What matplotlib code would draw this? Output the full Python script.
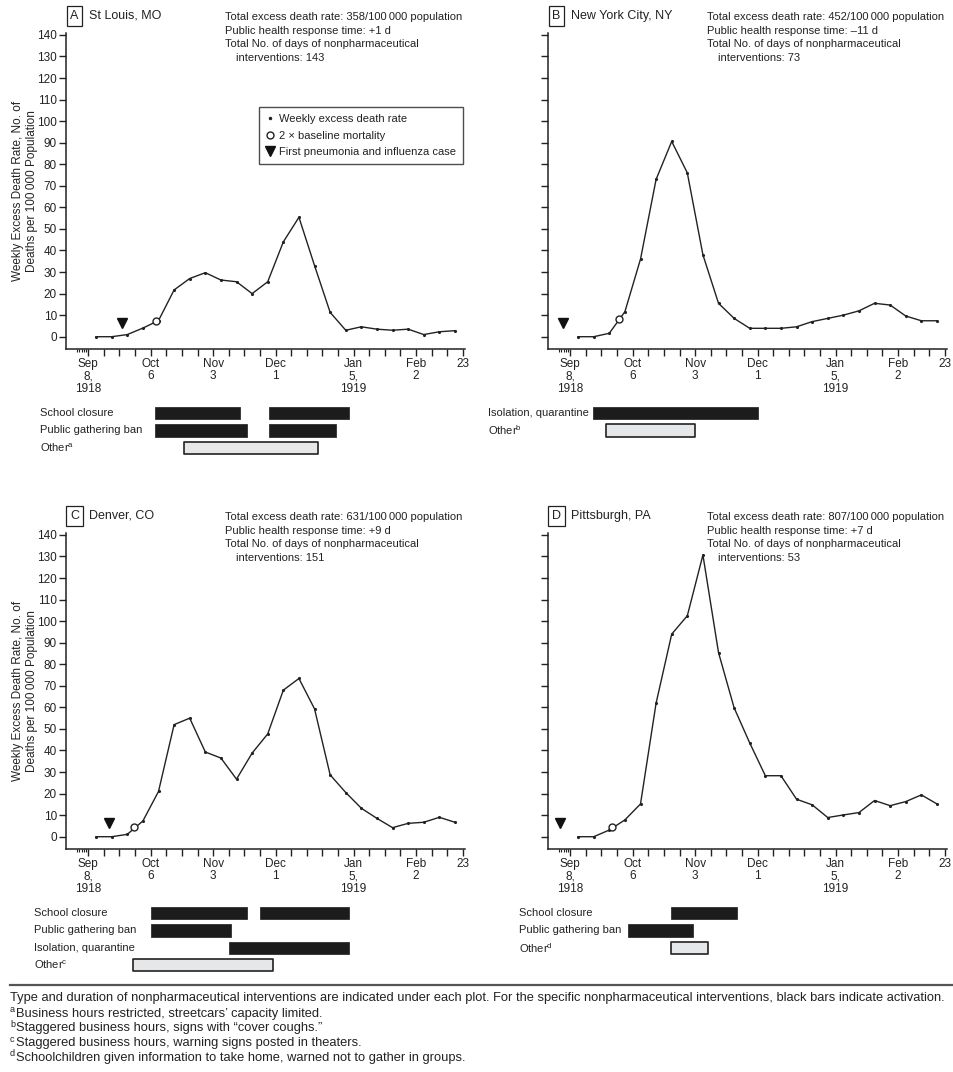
import matplotlib
matplotlib.use('Agg')
import matplotlib.pyplot as plt
from matplotlib.lines import Line2D
import numpy as np

plt.rcParams['font.family'] = ['Liberation Sans', 'DejaVu Sans']
plt.rcParams['mathtext.fontset'] = 'custom'
plt.rcParams['mathtext.rm'] = 'Liberation Sans'

W, H = 954, 1072
INK = '#222222'

# weekly values, plotted at the middle of each week (days after Sep 8, 1918)
week_mid = np.arange(24) * 7 + 3.5

letters = ['A', 'B', 'C', 'D']
cities = ['St Louis, MO', 'New York City, NY', 'Denver, CO', 'Pittsburgh, PA']
total_rate = [358, 452, 631, 807]
response_time = ['+1', '\u201311', '+9', '+7']
npi_days = [143, 73, 151, 53]

rate_stl = [0, 0, 1, 4, 7.5, 21.7, 27, 29.7, 26.3, 25.5, 20, 25.5,
            44, 55.4, 33, 11.3, 3, 4.6, 3.5, 3, 3.5, 1, 2.3, 2.8]
rate_nyc = [0, 0, 1.6, 11.6, 36, 73, 90.6, 76, 38, 15.5, 8.5, 3.9,
            3.9, 3.9, 4.6, 7, 8.5, 10, 12, 15.5, 14.7, 9.6, 7.4, 7.4]
rate_den = [0, 0, 1.1, 7.3, 21, 52, 55, 39.3, 36.5, 26.7, 38.8, 47.7,
            68, 73.4, 59.3, 28.7, 20.5, 13.2, 8.5, 4.2, 6.2, 6.7, 9, 6.7]
rate_pit = [0, 0, 3.1, 7.8, 15.2, 62, 94, 102.5, 130.7, 85.4, 59.8, 43.5,
            28.3, 28.3, 17.4, 14.8, 8.9, 10.1, 11.2, 16.8, 14.4, 16.3, 19.4, 15.2]
rates = [rate_stl, rate_nyc, rate_den, rate_pit]

# 2 x baseline mortality crossing
baseline_day = [30.4, 21.7, 20.3, 18.9]
baseline_rate = [7.4, 8.2, 4.4, 4.3]
# first pneumonia and influenza case
first_case_day = [15, -3.4, 9.5, -4.5]
first_case_y = [6.2, 6.2, 6.2, 6.2]

# nonpharmaceutical interventions: (start day, end day) after Sep 8, 1918
npi_labels = [
    ['School closure', 'Public gathering ban', 'Other$^{\\rm a}$'],
    ['Isolation, quarantine', 'Other$^{\\rm b}$'],
    ['School closure', 'Public gathering ban', 'Isolation, quarantine', 'Other$^{\\rm c}$'],
    ['School closure', 'Public gathering ban', 'Other$^{\\rm d}$'],
]
npi_spans = [
    [[(30, 68), (81, 117)], [(30, 71), (81, 111)], [(43, 103)]],
    [[(10, 84)], [(16, 56)]],
    [[(28, 71), (77, 117)], [(28, 64)], [(63, 117)], [(20, 83)]],
    [[(45, 75)], [(26, 55)], [(45, 62)]],
]
npi_other = [2, 1, 3, 2]   # row drawn as the gray "other" bar

x_ticks = [0, 28, 56, 84, 119, 147, 168]
x_labels = ['Sep\n8,\n1918', 'Oct\n6', 'Nov\n3', 'Dec\n1', 'Jan\n5,\n1919', 'Feb\n2', '23']
y_ticks = np.arange(0, 141, 10)

notes = [
    'Type and duration of nonpharmaceutical interventions are indicated under each plot. '
    'For the specific nonpharmaceutical interventions, black bars indicate activation.',
    'Business hours restricted, streetcars\u2019 capacity limited.',
    'Staggered business hours, signs with \u201ccover coughs.\u201d',
    'Staggered business hours, warning signs posted in theaters.',
    'Schoolchildren given information to take home, warned not to gather in groups.',
]


def fx(x):
    return x / W


def fy(y):
    return 1 - y / H


def add_px_axes(fig, left, top, right, bottom):
    return fig.add_axes([fx(left), fy(bottom), (right - left) / W, (bottom - top) / H])


fig = plt.figure(figsize=(W / 100, H / 100), dpi=100)

# panel origins (px): left edge of plot, vertical offset of the row
origins = [(66, 0), (548, 0), (66, 500), (548, 500)]
label_x = [40, 488, 34, 519]

for i in range(4):
    x0, dy = origins[i]
    ax = add_px_axes(fig, x0, 33 + dy, x0 + 399, 349 + dy)
    ax.plot(week_mid, rates[i], color=INK, lw=1.0, marker='.', ms=2.5, zorder=3)
    ax.plot(baseline_day[i], baseline_rate[i], ls='none', marker='o', ms=5,
            mfc='white', mec=INK, mew=1.0, zorder=4)
    ax.plot(first_case_day[i], first_case_y[i], ls='none', marker='v', ms=7,
            color='#111111', zorder=4)

    ax.set_xlim(-10, 169)
    ax.set_ylim(-5.7, 140.9)
    for s in ['top', 'right']:
        ax.spines[s].set_visible(False)
    for s in ['left', 'bottom']:
        ax.spines[s].set_color(INK)
        ax.spines[s].set_linewidth(1.1)

    ax.set_xticks(np.arange(0, 169, 7))
    ax.set_xticklabels([x_labels[x_ticks.index(d)] if d in x_ticks else ''
                        for d in range(0, 169, 7)], linespacing=1.05)
    ax.set_xticks(np.arange(-5, 0), minor=True)
    ax.tick_params(axis='x', which='major', direction='out', length=5, width=1.0,
                   color=INK, labelsize=8.5, labelcolor=INK, pad=1.5)
    ax.tick_params(axis='x', which='minor', direction='out', length=2, width=0.8, color=INK)
    ax.set_yticks(y_ticks)
    ax.tick_params(axis='y', direction='out', length=5, width=1.0, color=INK,
                   labelsize=8.5, labelcolor=INK, pad=1.5)
    if i % 2 == 1:
        ax.set_yticklabels([])
    else:
        fig.text(fx(25), fy(191 + dy),
                 'Weekly Excess Death Rate, No. of\nDeaths per 100\u2009000 Population',
                 rotation=90, ha='center', va='center', fontsize=8.5, color=INK,
                 linespacing=1.15)

    # panel letter and city
    fig.text(fx(x0 + 8.5), fy(16 + dy), letters[i], ha='center', va='center',
             fontsize=9, color=INK,
             bbox=dict(boxstyle='square,pad=0.3', fc='white', ec=INK, lw=0.9))
    fig.text(fx(x0 + 23), fy(16 + dy), cities[i], ha='left', va='center',
             fontsize=9, color=INK)

    sx = x0 + 159
    stats = [
        (sx, 17, 'Total excess death rate: %d/100\u2009000 population' % total_rate[i]),
        (sx, 30.5, 'Public health response time: %s d' % response_time[i]),
        (sx, 44, 'Total No. of days of nonpharmaceutical'),
        (sx + 11, 58, 'interventions: %d' % npi_days[i]),
    ]
    for tx, ty, s in stats:
        fig.text(fx(tx), fy(ty + dy), s, ha='left', va='center', fontsize=8, color=INK)

    if i == 0:
        handles = [
            Line2D([], [], ls='none', marker='.', ms=3, color=INK),
            Line2D([], [], ls='none', marker='o', ms=5, mfc='white', mec=INK),
            Line2D([], [], ls='none', marker='v', ms=7, color='#111111'),
        ]
        leg = ax.legend(handles, ['Weekly excess death rate', '2 \u00d7 baseline mortality',
                                  'First pneumonia and influenza case'],
                        loc='upper right', bbox_to_anchor=(0.995, 0.765), fontsize=8,
                        frameon=True, fancybox=False, handlelength=0.8,
                        handletextpad=0.4, borderpad=0.6, labelspacing=0.6,
                        borderaxespad=0)
        leg.get_frame().set_edgecolor(INK)
        leg.get_frame().set_linewidth(1.0)
        for t in leg.get_texts():
            t.set_color(INK)

    # intervention bars
    n = len(npi_labels[i])
    bx = add_px_axes(fig, x0, 404.5 + dy, x0 + 399, 404.5 + dy + 17.3 * n)
    for r in range(n):
        other = r == npi_other[i] and npi_labels[i][r].startswith('Other')
        spans = [(a, b - a) for a, b in npi_spans[i][r]]
        bx.broken_barh(spans, (r - 0.35, 0.7),
                       facecolors='#e6e7e8' if other else '#1c1c1c',
                       edgecolors=INK if other else '#1c1c1c',
                       linewidth=1.2 if other else 0.5)
        fig.text(fx(label_x[i]), fy(404.5 + dy + 17.3 * (r + 0.5)), npi_labels[i][r],
                 ha='left', va='center', fontsize=8, color=INK)
    bx.set_xlim(-10, 169)
    bx.set_ylim(n - 0.5, -0.5)
    bx.axis('off')

# footnotes
fig.add_artist(Line2D([fx(10), fx(954)], [fy(985), fy(985)], color='#555555', lw=1.6))
note_font = ['Liberation Sans Narrow', 'Liberation Sans', 'DejaVu Sans']
note_y = [998, 1014, 1028.5, 1043, 1057.5]
fig.text(fx(10), fy(note_y[0]), notes[0], ha='left', va='center', fontsize=9.3,
         family=note_font, color=INK)
for k, sup in enumerate('abcd'):
    fig.text(fx(10), fy(note_y[k + 1] - 4), sup, ha='left', va='center', fontsize=6.5,
             family=note_font, color=INK)
    fig.text(fx(16.5), fy(note_y[k + 1]), notes[k + 1], ha='left', va='center', fontsize=9.3,
             family=note_font, color=INK)

fig.savefig('out.png', dpi=100, facecolor='white')
